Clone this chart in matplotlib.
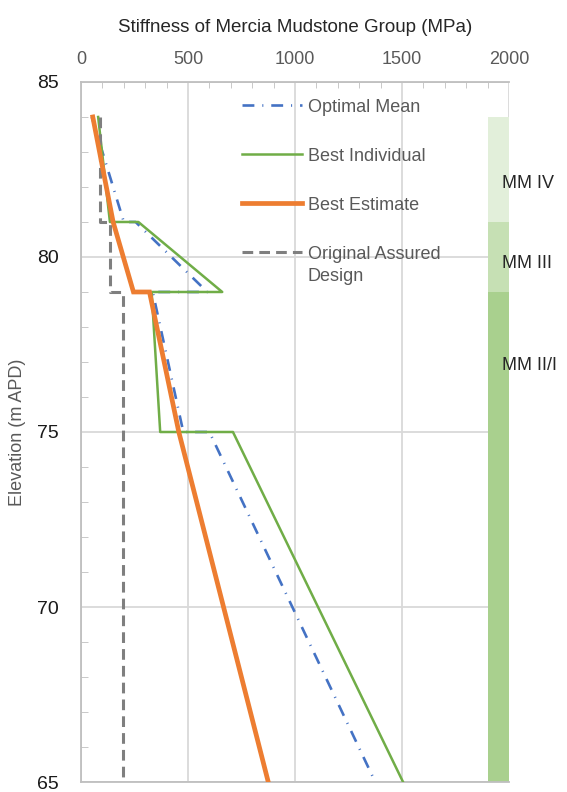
import matplotlib
matplotlib.use("Agg")
import matplotlib.pyplot as plt
from matplotlib.ticker import MultipleLocator

plt.rcParams['font.family'] = ['Liberation Sans', 'DejaVu Sans']
plt.rcParams['font.size'] = 13

# stiffness profiles (MPa) against elevation (m APD)
elev_mean = [84, 81, 81, 79, 79, 75, 75, 65]
stiff_mean = [50, 200, 255, 590, 335, 478, 600, 1375]

elev_indiv = [84, 81, 81, 79, 79, 75, 75, 65]
stiff_indiv = [80, 135, 268, 660, 330, 370, 710, 1505]

elev_best = [84, 81, 79, 79, 75, 65]
stiff_best = [55, 150, 245, 320, 457, 875]

elev_design = [84, 81, 81, 79, 79, 65]
stiff_design = [88, 88, 135, 135, 195, 195]

# mudstone zones
zone_names = ['MM IV', 'MM III', 'MM II/I']
zone_top = [84, 81, 79]
zone_base = [81, 79, 65]
zone_label_elev = [82.1, 79.8, 76.9]
zone_colors = ['#E2EFDA', '#C6E0B4', '#A9D08E']
ZONE_LEFT = 1900
ZONE_RIGHT = 2000

TEXT = '#595959'
GRID = '#D9D9D9'

fig = plt.figure(figsize=(5.67, 7.92), dpi=100)
ax = fig.add_axes([0.1429, 0.0126, 0.7548, 0.8839])

for name, top, base, col, ly in zip(zone_names, zone_top, zone_base, zone_colors, zone_label_elev):
    ax.barh((top + base) / 2, ZONE_RIGHT - ZONE_LEFT, height=top - base, left=ZONE_LEFT,
            color=col, zorder=1)
    ax.text(1965, ly, name, ha='left', va='center', color='#262626', fontsize=13,
            clip_on=False, zorder=5)

ax.plot(stiff_mean, elev_mean, color='#4472C4', lw=1.9, dashes=(4.5, 3, 0.4, 3),
        label='Optimal Mean', zorder=2)
ax.plot(stiff_indiv, elev_indiv, color='#70AD47', lw=1.8, label='Best Individual', zorder=3)
ax.plot(stiff_best, elev_best, color='#ED7D31', lw=3.4, label='Best Estimate',
        solid_joinstyle='miter', zorder=4)
ax.plot(stiff_design, elev_design, color='#7F7F7F', lw=2.2, dashes=(3.5, 2),
        label='Original Assured', zorder=3)

ax.set_xlim(0, 2000)
ax.set_ylim(65, 85)
ax.xaxis.set_major_locator(MultipleLocator(500))
ax.xaxis.set_minor_locator(MultipleLocator(100))
ax.yaxis.set_major_locator(MultipleLocator(5))
ax.yaxis.set_minor_locator(MultipleLocator(1))
ax.xaxis.tick_top()
ax.xaxis.set_label_position('top')
ax.grid(True, which='major', color=GRID, lw=1.3, zorder=0)
ax.set_axisbelow(True)

ax.tick_params(axis='x', which='major', length=0, pad=10, labelcolor=TEXT, labelsize=13)
ax.tick_params(axis='x', which='minor', direction='in', length=4, color='#BFBFBF')
ax.tick_params(axis='y', which='major', length=0, pad=16, labelcolor='#1a1a1a', labelsize=14)
ax.tick_params(axis='y', which='minor', direction='in', length=5, color='#BFBFBF')

for side in ['left', 'top', 'bottom']:
    ax.spines[side].set_color('#BFBFBF')
    ax.spines[side].set_linewidth(1.3)
ax.spines['right'].set_visible(False)

ax.set_xlabel('Stiffness of Mercia Mudstone Group (MPa)', color='#262626', fontsize=13.5, labelpad=14)
ax.set_ylabel('Elevation (m APD)', color=TEXT, fontsize=13, labelpad=8)

leg = ax.legend(loc='upper left', bbox_to_anchor=(0.376, 0.976), frameon=False,
                handlelength=3.3, handletextpad=0.35, labelspacing=1.77,
                borderpad=0, borderaxespad=0, fontsize=13)
for t in leg.get_texts():
    t.set_color(TEXT)

fig.canvas.draw()
bb = leg.get_texts()[3].get_window_extent()
fig.text(bb.x0, bb.y0 - 5, 'Design', transform=None, ha='left', va='top',
         color=TEXT, fontsize=13)

fig.savefig('out.png', dpi=100)
